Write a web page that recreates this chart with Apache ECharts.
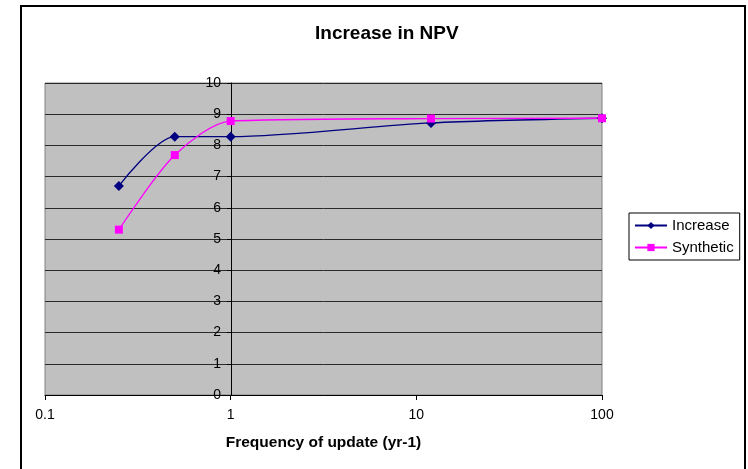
<!DOCTYPE html>
<html>
<head>
<meta charset="utf-8">
<script src="https://cdn.jsdelivr.net/npm/echarts@6/dist/echarts.min.js"></script>
<style>
html,body{margin:0;padding:0;background:#fff;}
#chart{width:748px;height:469px;}
</style>
</head>
<body>
<div id="chart"></div>
<script>
var frequency = [0.25, 0.5, 1, 12, 100];
var increase = [6.7, 8.28, 8.28, 8.72, 8.87];
var synthetic = [5.3, 7.69, 8.78, 8.86, 8.87];
var seriesNames = ['Increase', 'Synthetic'];
var titleText = 'Increase in NPV';
var xAxisName = 'Frequency of update (yr-1)';

function pairs(xs, ys) { return xs.map(function (x, i) { return [x, ys[i]]; }); }

var chart = echarts.init(document.getElementById('chart'));
var font = 'Liberation Sans, Arial, sans-serif';
chart.setOption({
  animation: false,
  backgroundColor: '#fff',
  textStyle: { fontFamily: font },
  graphic: [{
    type: 'rect', left: 20, top: 5, z: -1,
    shape: { width: 724, height: 480 },
    style: { fill: '#fff', stroke: '#000', lineWidth: 2 }
  }],
  title: {
    text: titleText, left: 310, top: 19,
    textStyle: { fontSize: 19, fontWeight: 'bold', color: '#000', fontFamily: font }
  },
  legend: {
    orient: 'vertical', left: 629, top: 213,
    data: seriesNames,
    borderColor: '#000', borderWidth: 1, padding: [5, 6, 5, 5],
    itemWidth: 32, itemHeight: 9, itemGap: 7,
    textStyle: { fontSize: 15, color: '#000', fontFamily: font }
  },
  grid: {
    left: 45, top: 83, width: 557, height: 312,
    show: true, backgroundColor: '#C0C0C0', borderColor: '#808080', borderWidth: 1
  },
  xAxis: {
    type: 'log', logBase: 10, min: 0.1, max: 100,
    name: xAxisName, nameLocation: 'middle', nameGap: 40,
    nameTextStyle: { fontSize: 15.5, fontWeight: 'bold', color: '#000', fontFamily: font },
    axisLine: { lineStyle: { color: '#000', width: 1 } },
    axisTick: { show: true, length: 5, lineStyle: { color: '#000' } },
    minorTick: { show: false },
    splitLine: { show: false },
    axisLabel: { fontSize: 14, color: '#000', margin: 13, fontFamily: font }
  },
  yAxis: {
    type: 'value', min: 0, max: 10, interval: 1,
    offset: -186,
    axisLine: { show: true, lineStyle: { color: '#000', width: 1 } },
    axisTick: { show: true, length: 4, lineStyle: { color: '#000' } },
    splitLine: { show: true, lineStyle: { color: '#2a2a2a', width: 1 } },
    axisLabel: { fontSize: 14, color: '#000', margin: 10, fontFamily: font }
  },
  series: [{
    name: seriesNames[0], type: 'line', smooth: 0.28,
    data: pairs(frequency, increase),
    symbol: 'diamond', symbolSize: 10,
    lineStyle: { color: '#000080', width: 1.3 },
    itemStyle: { color: '#000080' }
  }, {
    name: seriesNames[1], type: 'line', smooth: 0.28,
    data: pairs(frequency, synthetic),
    symbol: 'rect', symbolSize: 8,
    lineStyle: { color: '#FF00FF', width: 1.3 },
    itemStyle: { color: '#FF00FF' }
  }]
});
</script>
</body>
</html>
